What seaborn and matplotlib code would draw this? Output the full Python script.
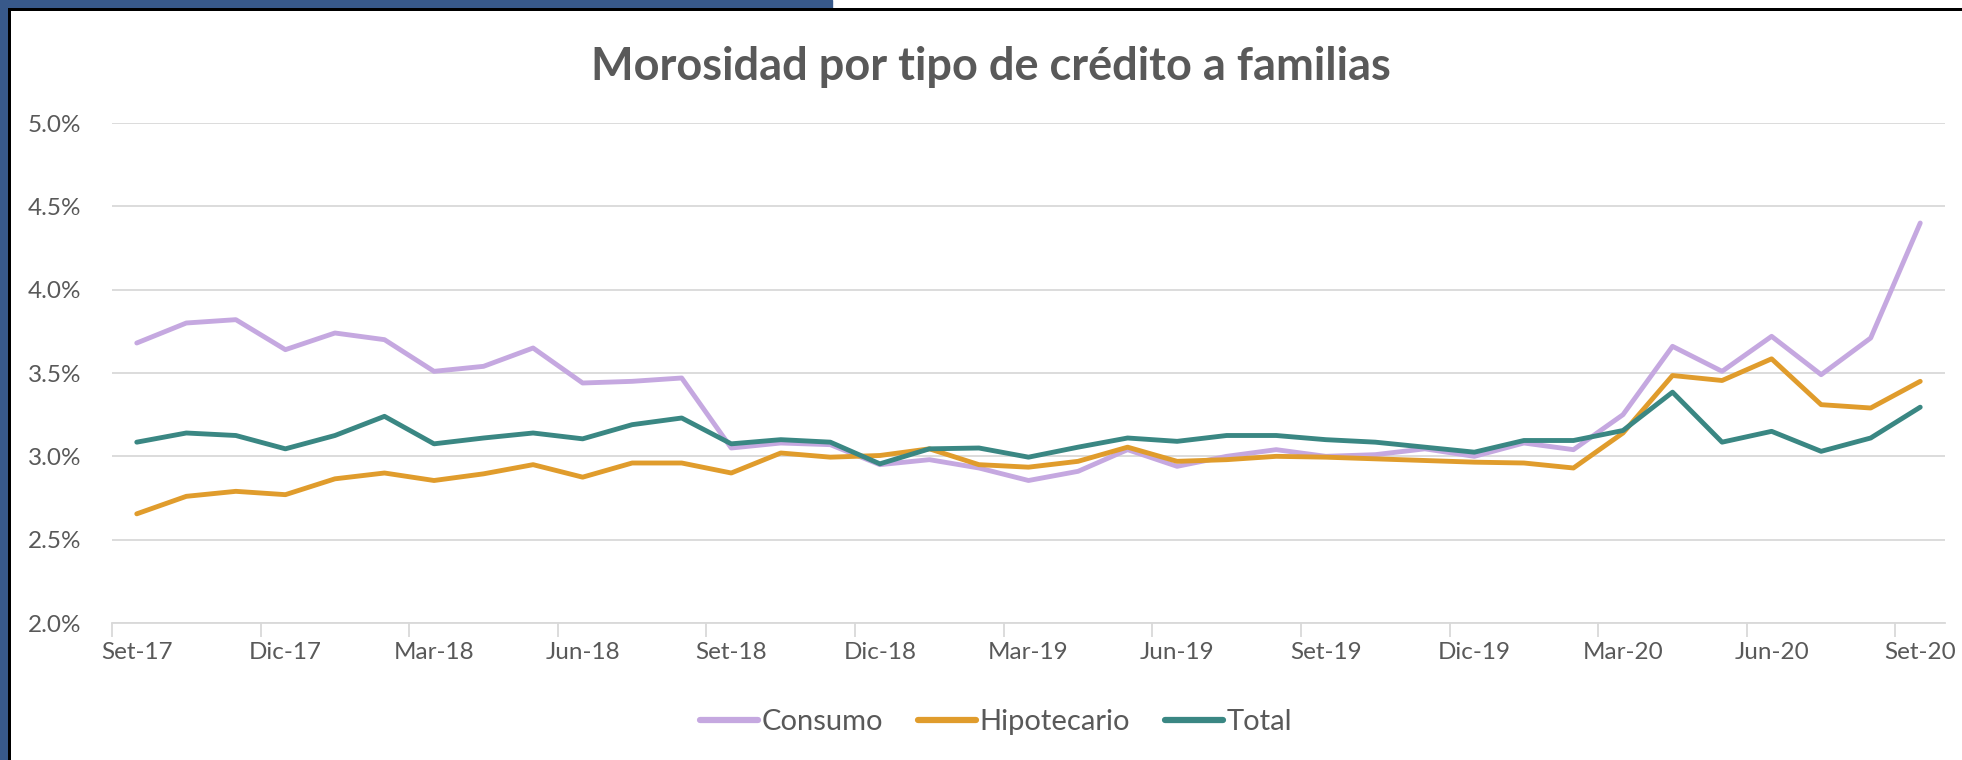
import seaborn as sns
import pandas as pd
import numpy as np
import matplotlib.pyplot as plt
from matplotlib.patches import Rectangle
from matplotlib.ticker import FixedLocator, FuncFormatter

meses = ['Set-17', 'Oct-17', 'Nov-17', 'Dic-17', 'Ene-18', 'Feb-18', 'Mar-18', 'Abr-18', 'May-18',
         'Jun-18', 'Jul-18', 'Ago-18', 'Set-18', 'Oct-18', 'Nov-18', 'Dic-18', 'Ene-19', 'Feb-19',
         'Mar-19', 'Abr-19', 'May-19', 'Jun-19', 'Jul-19', 'Ago-19', 'Set-19', 'Oct-19', 'Nov-19',
         'Dic-19', 'Ene-20', 'Feb-20', 'Mar-20', 'Abr-20', 'May-20', 'Jun-20', 'Jul-20', 'Ago-20',
         'Set-20']

consumo = [3.68, 3.80, 3.82, 3.64, 3.74, 3.70, 3.51, 3.54, 3.65, 3.44, 3.45, 3.47,
           3.05, 3.08, 3.07, 2.95, 2.98, 2.93, 2.855, 2.91, 3.04, 2.94, 3.00, 3.04,
           3.00, 3.01, 3.045, 3.00, 3.08, 3.04, 3.25, 3.66, 3.51, 3.72, 3.49, 3.71, 4.40]
hipotecario = [2.655, 2.76, 2.79, 2.77, 2.865, 2.90, 2.855, 2.895, 2.95, 2.875, 2.96, 2.96,
               2.90, 3.02, 2.995, 3.005, 3.045, 2.95, 2.935, 2.97, 3.055, 2.97, 2.98, 3.00,
               2.995, 2.985, 2.975, 2.965, 2.96, 2.93, 3.14, 3.485, 3.455, 3.585, 3.31, 3.29, 3.45]
total = [3.085, 3.14, 3.125, 3.045, 3.125, 3.24, 3.075, 3.11, 3.14, 3.105, 3.19, 3.23,
         3.075, 3.10, 3.085, 2.955, 3.045, 3.05, 2.995, 3.055, 3.11, 3.09, 3.125, 3.125,
         3.10, 3.085, 3.055, 3.025, 3.095, 3.095, 3.155, 3.385, 3.085, 3.15, 3.03, 3.11, 3.295]

series = ['Consumo', 'Hipotecario', 'Total']
colores = ['#C5A8E0', '#E09C2C', '#3A8783']

df = pd.DataFrame({'i': np.arange(len(meses)), 'Consumo': consumo,
                   'Hipotecario': hipotecario, 'Total': total})
df = df.melt(id_vars='i', var_name='serie', value_name='valor')

sns.set_style('white')
plt.rcParams['font.family'] = ['Lato', 'DejaVu Sans']
gris = '#595959'

fig = plt.figure(figsize=(19.62, 7.6), dpi=100)
ax = fig.add_axes([112 / 1962, 1 - 623 / 760, (1945 - 112) / 1962, 500 / 760])

sns.lineplot(data=df, x='i', y='valor', hue='serie', hue_order=series,
             palette=colores, linewidth=3.5, ax=ax, legend=True)

ax.set_xlim(-0.5, len(meses) - 0.5)
ax.set_ylim(2.0, 5.0)
ax.set_yticks(np.arange(2.0, 5.01, 0.5))
ax.yaxis.set_major_formatter(FuncFormatter(lambda v, p: f'{v:.1f}%'))
ax.grid(axis='y', color='#D9D9D9', linewidth=1.3)
ax.set_axisbelow(True)

# tick marks between groups of 3 months, labels centred on the month
ax.xaxis.set_major_locator(FixedLocator(np.arange(-0.5, len(meses), 3)))
ax.xaxis.set_major_formatter(FuncFormatter(lambda v, p: ''))
ax.xaxis.set_minor_locator(FixedLocator(np.arange(0, len(meses), 3)))
ax.xaxis.set_minor_formatter(FuncFormatter(lambda v, p: meses[int(round(v))]))
ax.tick_params(axis='x', which='major', direction='out', length=10, width=1.3,
               color='#D9D9D9', bottom=True)
ax.tick_params(axis='x', which='minor', length=0, pad=14, labelsize=17.5, labelcolor=gris)
ax.tick_params(axis='y', length=0, pad=22, labelsize=17.5, labelcolor=gris)
for lab in ax.get_yticklabels():
    lab.set_horizontalalignment('right')

for s in ['top', 'right', 'left']:
    ax.spines[s].set_visible(False)
ax.spines['bottom'].set_color('#D9D9D9')
ax.spines['bottom'].set_linewidth(1.3)
ax.set_xlabel('')
ax.set_ylabel('')

handles, labels = ax.get_legend_handles_labels()
ax.legend_.remove()
leg = fig.legend(handles, labels, loc='center', bbox_to_anchor=(996 / 1962, 1 - 722 / 760),
                 ncol=3, frameon=False, fontsize=21, handlelength=2.0,
                 handletextpad=0.12, columnspacing=1.2, labelcolor=gris)
for h in leg.legend_handles:
    h.set_linewidth(4.5)
    h.set_solid_capstyle('round')

fig.text(991 / 1962, 1 - 67 / 760, 'Morosidad por tipo de crédito a familias',
         ha='center', va='center', fontsize=32.5, fontweight='bold', color=gris)

# marco del gráfico
azul = '#38598A'
fig.add_artist(Rectangle((0, 0), 8 / 1962, 1, transform=fig.transFigure, color=azul, zorder=0))
fig.add_artist(Rectangle((0, 1 - 8 / 760), 832 / 1962, 8 / 760, transform=fig.transFigure,
                         color=azul, zorder=0))
fig.add_artist(Rectangle((8 / 1962, 0), 2.5 / 1962, 1 - 8 / 760, transform=fig.transFigure,
                         color='black', lw=0, zorder=1))
fig.add_artist(Rectangle((8 / 1962, 1 - 10.5 / 760), 1, 2.5 / 760, transform=fig.transFigure,
                         color='black', lw=0, zorder=1))

fig.savefig('out.png', dpi=100)
